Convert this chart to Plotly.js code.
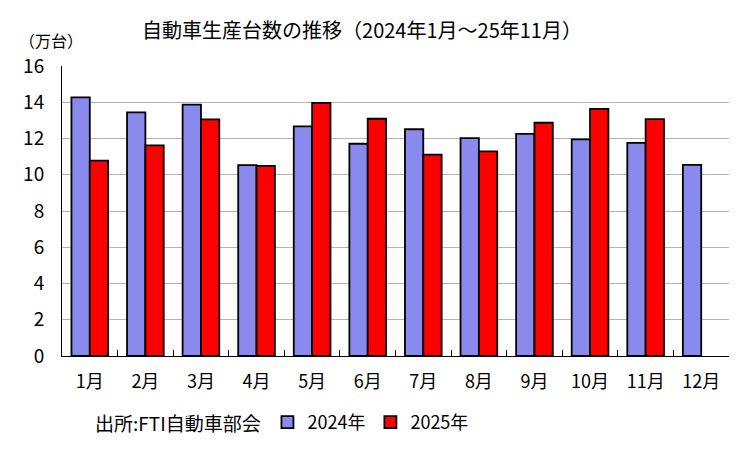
<!DOCTYPE html>
<html>
<head>
<meta charset="utf-8">
<script src="https://cdn.plot.ly/plotly-3.0.1.min.js"></script>
<style>html,body{margin:0;padding:0;background:#fff;}#chart{width:750px;height:453px;}</style>
</head>
<body>
<div id="chart"></div>
<script>
const months = ["1月","2月","3月","4月","5月","6月","7月","8月","9月","10月","11月","12月"];
const values2024 = [14.27, 13.44, 13.87, 10.53, 12.67, 11.71, 12.51, 12.02, 12.26, 11.95, 11.76, 10.55];
const values2025 = [10.78, 11.62, 13.05, 10.49, 13.97, 13.09, 11.11, 11.29, 12.87, 13.63, 13.07, null];
const seriesNames = ["2024年", "2025年"];
const yTicks = [0, 2, 4, 6, 8, 10, 12, 14, 16];

const FONT = '"Noto Sans CJK JP", "Noto Sans", sans-serif';

const traces = [
  {
    type: "bar", name: seriesNames[0], x: months, y: values2024,
    marker: {color: "#8a8aee", line: {color: "#000", width: 1.8}}
  },
  {
    type: "bar", name: seriesNames[1], x: months, y: values2025,
    marker: {color: "#ff0000", line: {color: "#000", width: 1.8}}
  }
];

const layout = {
  width: 750, height: 453,
  margin: {l: 62, r: 21, t: 66, b: 95},
  paper_bgcolor: "#fff", plot_bgcolor: "#fff",
  font: {family: FONT, color: "#000", size: 17},
  barmode: "group", bargap: 0.34, bargroupgap: 0,
  title: {text: "自動車生産台数の推移（2024年1月～25年11月）", x: 362 / 750, xref: "container", xanchor: "center",
          y: 1 - 31 / 453, yref: "container", yanchor: "middle", font: {size: 20, family: FONT}},
  xaxis: {
    type: "category", showline: true, linecolor: "#000", linewidth: 1,
    ticks: "inside", tickson: "boundaries", ticklen: 6, tickcolor: "#000",
    showgrid: false, tickfont: {size: 18}, ticklabelstandoff: 9, fixedrange: true
  },
  yaxis: {
    range: [0, 16], tickvals: yTicks, showline: true, linecolor: "#000", linewidth: 1,
    ticks: "", showgrid: true, gridcolor: "#b4b4b4", gridwidth: 1,
    zeroline: false, tickfont: {size: 19}, ticklabelstandoff: 13, fixedrange: true
  },
  showlegend: true,
  legend: {
    orientation: "h", x: 0.308, y: -0.229, xanchor: "left", yanchor: "middle",
    font: {size: 18}, itemwidth: 30, traceorder: "normal", bgcolor: "rgba(0,0,0,0)"
  },
  annotations: [
    {text: "（万台）", xref: "paper", yref: "paper", x: -0.068, y: 1.088, xanchor: "left", yanchor: "middle",
     showarrow: false, font: {size: 16}},
    {text: "出所:FTI自動車部会", xref: "paper", yref: "paper", x: 0.046, y: -0.229, xanchor: "left", yanchor: "middle",
     showarrow: false, font: {size: 19}}
  ]
};

Plotly.newPlot("chart", traces, layout, {displayModeBar: false, staticPlot: true});
</script>
</body>
</html>
